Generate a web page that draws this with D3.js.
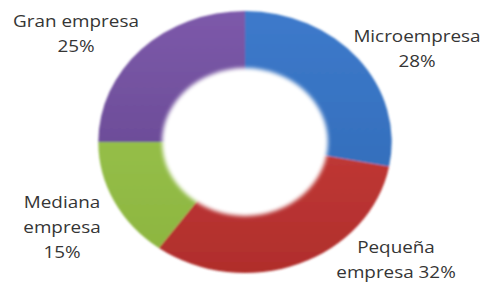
<!DOCTYPE html>
<html><head><meta charset="utf-8">
<script src="https://cdn.jsdelivr.net/npm/d3@7"></script>
<style>html,body{margin:0;padding:0;background:#fff;}svg{display:block;}</style>
</head><body>
<svg id="c" width="486" height="282"></svg>
<script>
const categories = ["Microempresa", "Pequeña empresa", "Mediana empresa", "Gran empresa"];
const values = [28, 32, 15, 25];
const labelLines = [["Microempresa", "28%"], ["Pequeña", "empresa 32%"], ["Mediana", "empresa", "15%"], ["Gran empresa", "25%"]];
const colorsLight = ["#3d7acb", "#d0433f", "#9dc851", "#7d59aa"];
const colorsDark = ["#2f68b3", "#b02e2c", "#8cb43f", "#5d4288"];

const W = 486, H = 282;
const cx = 245, cy = 142, R = 131, r = 74, sx = 1.12;
const labelAnchors = [[417, 42], [396, 253], [62, 208], [76, 27]];
const lineH = 25, textSx = 1.18;

const svg = d3.select("#c");
const defs = svg.append("defs");
categories.forEach((c, i) => {
  const g = defs.append("linearGradient").attr("id", "g" + i)
    .attr("gradientUnits", "userSpaceOnUse").attr("x1", 0).attr("y1", -R).attr("x2", 0).attr("y2", R);
  g.append("stop").attr("offset", "0%").attr("stop-color", colorsLight[i]);
  g.append("stop").attr("offset", "100%").attr("stop-color", colorsDark[i]);
});
const blur = defs.append("filter").attr("id", "soft").attr("x", "-20%").attr("y", "-20%").attr("width", "140%").attr("height", "140%");
blur.append("feGaussianBlur").attr("stdDeviation", 2);
const blurO = defs.append("filter").attr("id", "softo").attr("x", "-20%").attr("y", "-20%").attr("width", "140%").attr("height", "140%");
blurO.append("feGaussianBlur").attr("stdDeviation", 0.8);

const pie = d3.pie().sort(null).value(d => d)(values);
const arc = d3.arc().innerRadius(r - 6).outerRadius(R);

const g = svg.append("g").attr("transform", `translate(${cx},${cy}) scale(${sx},1)`);
g.append("g").attr("filter", "url(#softo)").selectAll("path").data(pie).join("path")
  .attr("d", arc)
  .attr("fill", (d, i) => `url(#g${i})`);
g.append("circle").attr("r", r).attr("fill", "#fff").attr("filter", "url(#soft)");

const lab = svg.append("g").attr("font-family", "'Open Sans', sans-serif")
  .attr("font-size", 16).attr("fill", "#353535").attr("text-anchor", "middle");
labelLines.forEach((lines, i) => {
  const [x, y] = labelAnchors[i];
  lines.forEach((t, j) => {
    lab.append("text").attr("transform", `translate(${x},${y + j * lineH}) scale(${textSx},1)`).text(t);
  });
});
</script>
</body></html>
